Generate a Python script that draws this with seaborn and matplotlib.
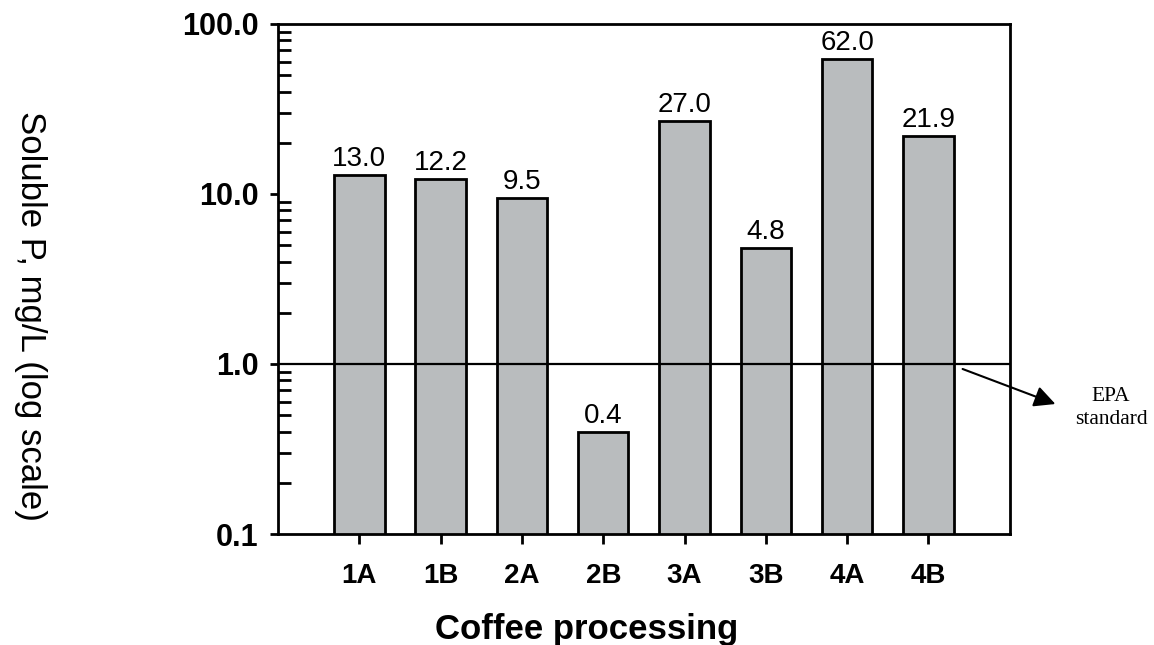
import matplotlib
matplotlib.use("Agg")
import matplotlib.pyplot as plt
from matplotlib.ticker import LogLocator, NullFormatter
import seaborn as sns
import pandas as pd

# data
categories  = ["1A", "1B", "2A", "2B", "3A", "3B", "4A", "4B"]
soluble_p   = [13.0, 12.2, 9.5, 0.4, 27.0, 4.8, 62.0, 21.9]
bar_labels  = ["13.0", "12.2", "9.5", "0.4", "27.0", "4.8", "62.0", "21.9"]
y_ticks     = [0.1, 1.0, 10.0, 100.0]
y_ticklabel = ["0.1", "1.0", "10.0", "100.0"]
epa_limit   = 1.0

df = pd.DataFrame({"processing": categories, "p": soluble_p})

sns.set_style("white")
plt.rcParams["font.family"] = ["Liberation Sans", "DejaVu Sans"]
plt.rcParams["text.color"] = "black"
plt.rcParams["axes.labelcolor"] = "black"
plt.rcParams["xtick.color"] = "black"
plt.rcParams["ytick.color"] = "black"

fig = plt.figure(figsize=(11.54, 6.45), dpi=100)
ax = fig.add_axes([0.241, 0.172, 0.634, 0.791])
ax.set_yscale("log")

sns.barplot(data=df, x="processing", y="p", color="#b9bcbe", saturation=1,
            width=0.62, edgecolor="black", linewidth=2, ax=ax)

ax.set_ylim(0.1, 100)
ax.set_xlim(-1, 8)
ax.axhline(epa_limit, color="black", lw=1.6, zorder=3)

# value labels above bars
for i, (v, lab) in enumerate(zip(soluble_p, bar_labels)):
    ax.annotate(lab, (i, v), xytext=(0, 2), textcoords="offset points",
                ha="center", va="bottom", fontsize=20)

ax.set_yticks(y_ticks)
ax.set_yticklabels(y_ticklabel, fontsize=22, fontweight="bold")
ax.yaxis.set_minor_locator(LogLocator(base=10, subs=range(2, 10)))
ax.yaxis.set_minor_formatter(NullFormatter())
ax.tick_params(axis="y", which="major", direction="out", length=6, width=2, left=True, pad=8)
ax.tick_params(axis="y", which="minor", direction="in", length=9, width=2, left=True)
ax.tick_params(axis="x", which="major", direction="out", length=7, width=2,
               bottom=True, labelsize=20, pad=14)
for t in ax.get_xticklabels():
    t.set_fontweight("bold")

for s in ax.spines.values():
    s.set_color("black")
    s.set_linewidth(2)

ax.set_xlabel("")
ax.set_ylabel("")
fig.text(587 / 1154, 1 - 630 / 645, "Coffee processing", ha="center", va="center",
         fontsize=25, fontweight="bold")
fig.text(0.026, 0.51, "Soluble P, mg/L (log scale)", rotation=270,
         ha="center", va="center", fontsize=25)

# EPA standard annotation
ax.annotate("", xy=(1058 / 1154, 1 - 405 / 645), xycoords="figure fraction",
            xytext=(960 / 1154, 1 - 368 / 645), textcoords="figure fraction",
            arrowprops=dict(arrowstyle="-|>", color="black", lw=1.5,
                            mutation_scale=32))
fig.text(1111 / 1154, 1 - 408 / 645, "EPA\nstandard", ha="center", va="center",
         fontsize=15.5, family=["Liberation Serif", "DejaVu Serif"], linespacing=1.3)

fig.savefig("out.png", dpi=100)
